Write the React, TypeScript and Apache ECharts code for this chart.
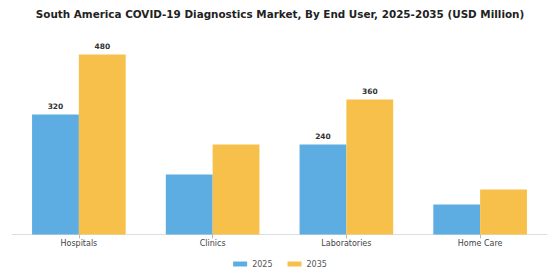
import React, { useEffect, useRef } from "react";
import * as echarts from "echarts";

const categories = ["Hospitals", "Clinics", "Laboratories", "Home Care"];
const values2025 = [320, 160, 240, 80];
const values2035 = [480, 240, 360, 120];
const labeled = [true, false, true, false];
const seriesNames = ["2025", "2035"];
const titleText = "South America COVID-19 Diagnostics Market, By End User, 2025-2035 (USD Million)";

const FONT = "DejaVu Sans";

export default function App() {
  const ref = useRef<HTMLDivElement>(null);
  useEffect(() => {
    document.body.style.margin = "0";
    if (!ref.current) return;
    const chart = echarts.init(ref.current, null, { renderer: "svg" });
    const mk = (vals: number[]) =>
      vals.map((v, i) => ({
        value: v,
        label: { show: labeled[i] },
      }));
    const labelStyle = {
      position: "top" as const,
      distance: 4,
      fontFamily: FONT,
      fontSize: 7.5,
      fontWeight: "bold" as const,
      color: "#333",
    };
    chart.setOption({
      animation: false,
      title: {
        text: titleText,
        left: "center",
        top: 4,
        textStyle: { fontFamily: FONT, fontSize: 10.4, fontWeight: "bold", color: "#222" },
      },
      legend: {
        data: seriesNames,
        bottom: 7,
        left: "center",
        itemWidth: 14,
        itemHeight: 5,
        itemGap: 15,
        icon: "rect",
        textStyle: { fontFamily: FONT, fontSize: 8, color: "#555" },
      },
      grid: { left: 12, right: 13, top: 47, bottom: 45.5, containLabel: false },
      xAxis: {
        type: "category",
        data: categories,
        axisLine: { lineStyle: { color: "#ddd" } },
        axisTick: { show: true, alignWithLabel: true, length: 4, lineStyle: { color: "#bbb" } },
        axisLabel: { fontFamily: FONT, fontSize: 8, color: "#444", margin: 5 },
      },
      yAxis: {
        type: "value",
        min: 0,
        max: 500,
        show: false,
        splitLine: { show: false },
      },
      series: [
        {
          name: seriesNames[0],
          type: "bar",
          data: mk(values2025),
          barGap: "0%",
          barCategoryGap: "30%",
          itemStyle: { color: "#5DADE2" },
          label: labelStyle,
        },
        {
          name: seriesNames[1],
          type: "bar",
          data: mk(values2035),
          barGap: "0%",
          barCategoryGap: "30%",
          itemStyle: { color: "#F7C04A" },
          label: labelStyle,
        },
      ],
    });
    return () => chart.dispose();
  }, []);
  return <div ref={ref} style={{ width: 560, height: 280 }} />;
}
